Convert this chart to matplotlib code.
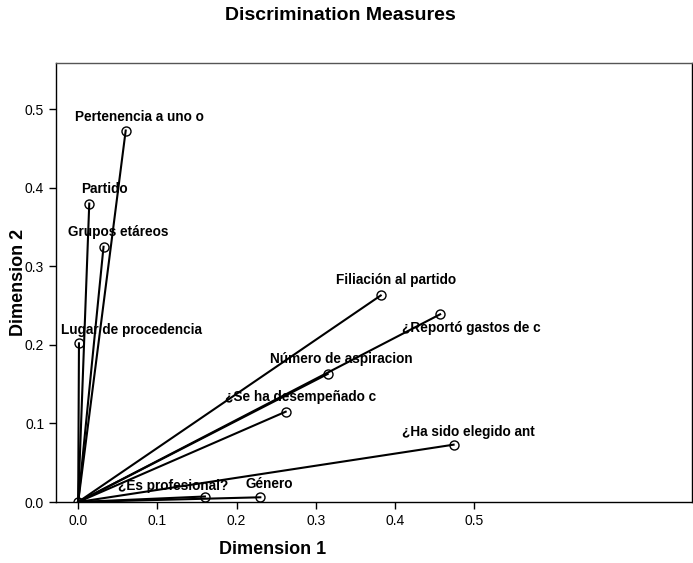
import matplotlib
matplotlib.use("Agg")
import matplotlib.pyplot as plt

variables = ["Pertenencia a uno o", "Partido", "Grupos etáreos", "Lugar de procedencia",
             "Filiación al partido", "¿Reportó gastos de c", "Número de aspiracion",
             "¿Se ha desempeñado c", "¿Ha sido elegido ant", "¿Es profesional?", "Género"]
dim1 = [0.060, 0.014, 0.032, 0.001, 0.382, 0.457, 0.315, 0.262, 0.474, 0.160, 0.230]
dim2 = [0.473, 0.380, 0.325, 0.202, 0.263, 0.239, 0.163, 0.115, 0.073, 0.007, 0.006]
ticks = [0.0, 0.1, 0.2, 0.3, 0.4, 0.5]
tick_labels = ["0.0", "0.1", "0.2", "0.3", "0.4", "0.5"]

# label offsets in pixels (layout only)
label_offsets = [(14, 14), (15, 15), (15, 15), (53, 13), (15, 15), (31, -14),
                 (14, 15), (15, 15), (15, 13), (-32, 11), (9, 13)]

plt.rcParams['font.family'] = ['Liberation Sans', 'DejaVu Sans']

fig = plt.figure(figsize=(6.93, 5.63), dpi=100)
ax = fig.add_axes([56/693, 1-502/563, (692-56)/693, (502-63)/563])

for name, x, y, off in zip(variables, dim1, dim2, label_offsets):
    ax.plot([0, x], [0, y], color='black', lw=1.5, zorder=2)
    ax.plot([x], [y], marker='o', ms=6.5, mfc='none', mec='black', mew=1.0, ls='none', zorder=3)
    t = ax.annotate(name, (x, y), xytext=off, textcoords='offset pixels',
                    ha='center', va='center', fontsize=9.8, fontweight='bold', zorder=4)
ax.plot([0], [0], marker='o', ms=6.5, mfc='none', mec='black', mew=1.0, ls='none', zorder=3)

ax.set_xlim(-0.028, 0.775)
ax.set_ylim(0.0, 0.559)
ax.set_xticks(ticks)
ax.set_xticklabels(tick_labels)
ax.set_yticks(ticks)
ax.set_yticklabels(tick_labels)
ax.tick_params(direction='out', length=5, width=1, labelsize=10, colors='black')
for s in ax.spines.values():
    s.set_color('black')
    s.set_linewidth(1)
ax.spines['top'].set_color('#555555')

ax.set_xlabel("Dimension 1", fontsize=13, fontweight='bold', va='center')
ax.set_ylabel("Dimension 2", fontsize=13, fontweight='bold', va='center')
ax.xaxis.set_label_coords((273-56)/(692-56), -(550-502)/(502-63))
ax.yaxis.set_label_coords(-(56-18)/(692-56), (502-282)/(502-63))
fig.text(340/693, 1-15/563, "Discrimination Measures", ha='center', va='center',
         fontsize=14, fontweight='bold')

fig.savefig("out.png", dpi=100)
